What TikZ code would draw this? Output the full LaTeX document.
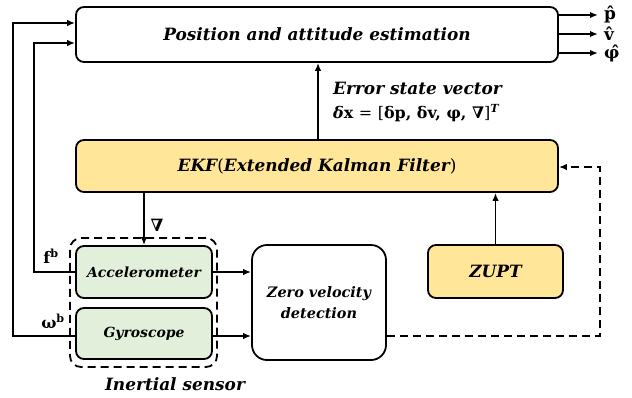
\documentclass[tikz,border=0pt]{standalone}
\usepackage{fontspec}
\setmainfont{DejaVu Serif}
\usetikzlibrary{arrows.meta}
\definecolor{boxgreen}{HTML}{E2EFDA}
\definecolor{boxorange}{HTML}{FFE699}
\tikzset{
  blk/.style={draw, line width=1.8bp, rounded corners=8bp, inner sep=0pt, align=center,
    font=\bfseries\itshape\fontsize{17}{20}\selectfont},
  sens/.style={blk, fill=boxgreen, minimum width=136bp, font=\bfseries\itshape\fontsize{14}{17}\selectfont},
  arr/.style={line width=1.8bp, -{Latex[length=8bp,width=6.5bp]}},
  dasharr/.style={arr, dash pattern=on 8bp off 5bp},
  lbl/.style={inner sep=0pt, font=\bfseries\fontsize{16}{19}\selectfont},
  hatlbl/.style={inner sep=0pt, anchor=west, font=\bfseries\fontsize{17}{19}\selectfont},
}
\begin{document}
\begin{tikzpicture}[x=1bp,y=-1bp]
\useasboundingbox (0,0) rectangle (632,397);
% boxes
\node[blk, minimum width=482bp, minimum height=55bp] (top) at (317,34.5) {Position and attitude estimation};
\node[blk, fill=boxorange, minimum width=482bp, minimum height=52bp] (ekf) at (317,166)
  {EKF{\mdseries\upshape(}Extended Kalman Filter{\mdseries\upshape)}};
\node[draw, line width=1.8bp, dash pattern=on 8bp off 5bp, rounded corners=11bp,
  minimum width=147bp, minimum height=129bp] (ins) at (143.5,302.5) {};
\node[sens, minimum height=52bp] (acc) at (144,272) {Accelerometer};
\node[sens, minimum height=51bp] (gyr) at (144,333.5) {Gyroscope};
\node[blk, rounded corners=15bp, minimum width=134bp, minimum height=115bp,
  font=\bfseries\itshape\fontsize{14.5}{21}\selectfont] (zv) at (319,302.5) {Zero velocity\\detection};
\node[blk, fill=boxorange, minimum width=135bp, minimum height=53bp] (zupt) at (495.5,271.5) {ZUPT};
% outputs
\coordinate (o1) at (598,15);
\coordinate (o2) at (598,34);
\coordinate (o3) at (598,53);
\draw[arr] (top.east |- o1) -- (o1);
\draw[arr] (top.east |- o2) -- (o2);
\draw[arr] (top.east |- o3) -- (o3);
\node[hatlbl] (ph) at (604,14) {p̂};
\node[hatlbl] (vh) at (604,34) {v̂};
\node[hatlbl] (fh) at (604,53) {φ̂};
% feedback lines to top box
\coordinate (c1) at (13,23);
\coordinate (c2) at (34,43);
\draw[arr] (gyr.west |- 0,336) -- (13,336) -- (c1) -- (top.west |- c1);
\draw[arr] (acc.west) -- (34,272) -- (c2) -- (top.west |- c2);
\node[lbl] (fb) at (51,256) {f\textsuperscript{b}};
\node[lbl] (wb) at (53,321) {ω\textsuperscript{b}};
% error state
\draw[arr] (ekf.north -| 318,0) -- (top.south -| 318,0);
\node[lbl, anchor=west, font=\bfseries\itshape\fontsize{17}{20}\selectfont] (es) at (333,88) {Error state vector};
\node[lbl, anchor=west] (dx) at (333,113)
  {{\itshape δ}x {\mdseries=} {\mdseries[}δp, δv, φ, ∇{\mdseries]}\textsuperscript{\itshape T}};
% nabla arrow
\draw[arr] (ekf.south -| acc.north) -- (acc.north);
\node[lbl, font=\bfseries\fontsize{17}{19}\selectfont] (nb) at (157,225) {∇};
% sensors to zero velocity
\draw[arr] (acc.east) -- (zv.west |- acc.east);
\draw[arr] (gyr.east |- 0,336) -- (zv.west |- 0,336);
% zupt to ekf
\draw[arr] (zupt.north) -- (zupt.north |- ekf.south);
% dashed loop
\coordinate (d1) at (600,336);
\coordinate (d2) at (600,167);
\draw[dasharr] (zv.east |- d1) -- (d1) -- (d2) -- (ekf.east |- d2);
% inertial sensor label
\node[lbl, font=\bfseries\itshape\fontsize{17}{20}\selectfont] (isl) at (175,384) {Inertial sensor};
\end{tikzpicture}
\end{document}
